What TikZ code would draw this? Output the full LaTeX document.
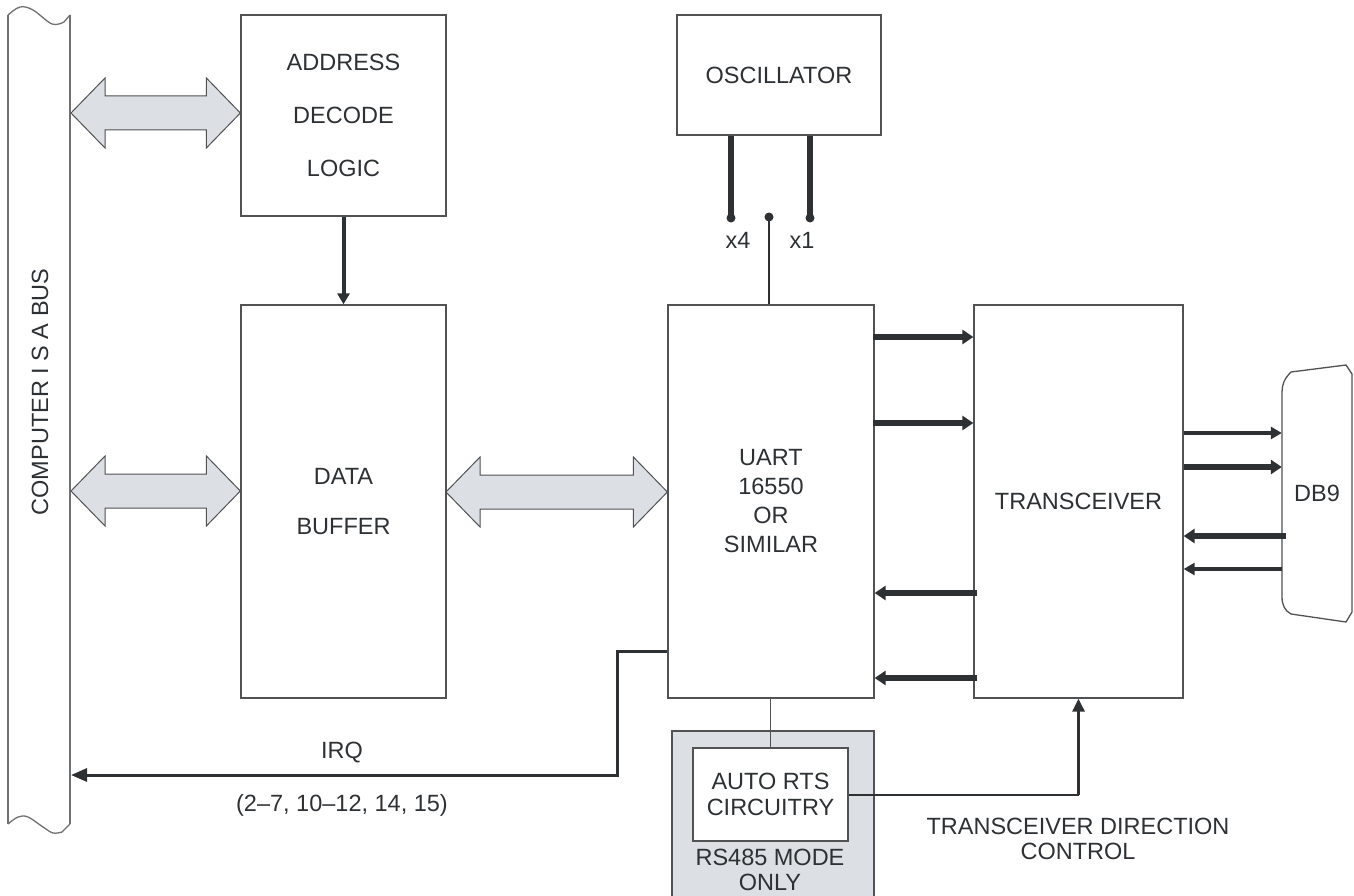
\documentclass[tikz,border=0pt]{standalone}
\usepackage{fontspec}
\setmainfont{Liberation Sans}
\usetikzlibrary{arrows.meta,calc}
\definecolor{ink}{HTML}{2E3134}
\definecolor{edge}{HTML}{505254}
\definecolor{busline}{HTML}{6E7072}
\definecolor{panelgray}{HTML}{DCDFE3}
\newcommand\fatarrow[2]{%
  \path[fat] (#1) -- ++(34,-35) -- ++(0,18) -- ($(#2)+(-34,-17)$) -- ++(0,-18) -- (#2)
    -- ++(-34,35) -- ++(0,-18) -- ($(#1)+(34,17)$) -- ++(0,18) -- cycle;}
\begin{document}
\begin{tikzpicture}[x=1pt,y=-1pt,
  every node/.style={font=\fontsize{23.5}{29}\selectfont, text=ink},
  box/.style={draw=edge, line width=1.3pt, fill=white, inner sep=0pt, align=center},
  fat/.style={draw=edge, line width=1pt, fill=panelgray, line join=miter},
  busedge/.style={draw=busline, line width=1.3pt},
  wide/.style={draw=ink, line width=6pt, -{Triangle[length=11pt,width=14pt]}},
  medium/.style={draw=ink, line width=4pt, -{Triangle[length=11pt,width=12pt]}},
  clkline/.style={draw=ink, line width=5.5pt},
  thinwire/.style={draw=ink, line width=2pt},
  irqline/.style={draw=ink, line width=3pt, -{Triangle[length=16pt,width=13pt]}},
  lbl/.style={inner sep=0pt, align=center}
]
\useasboundingbox (0,0) rectangle (1354,896);

% ---- ISA bus ----
\path[busedge] (8,15) -- (8,824);
\path[busedge] (70,15) -- (70,824);
\path[busedge] plot[smooth, tension=0.6] coordinates {(8,15) (20,7) (33,10) (52,24) (64,22)} -- (70,15);
\path[busedge] plot[smooth, tension=0.6] coordinates {(8,824) (18,817) (28,817) (43,827) (53,833) (62,832)} -- (70,824);
\node[lbl, rotate=90] (buslabel) at (40,392) {COMPUTER I S A BUS};
\coordinate (bus1) at (71,113);
\coordinate (bus2) at (71,491);
\coordinate (bus3) at (71,775);

% ---- boxes ----
\node[box, minimum width=205pt, minimum height=201pt, font=\fontsize{23.5}{53}\selectfont] (addr) at (343.5,115.5) {ADDRESS\\DECODE\\LOGIC};
\node[box, minimum width=205pt, minimum height=393pt, font=\fontsize{23.5}{50}\selectfont] (buf) at (343.5,501.5) {DATA\\BUFFER};
\node[box, minimum width=204pt, minimum height=120pt] (osc) at (779,75) {OSCILLATOR};
\node[box, minimum width=206pt, minimum height=393pt] (uart) at (771,501.5) {UART\\16550\\OR\\SIMILAR};
\node[box, minimum width=209pt, minimum height=393pt] (xcvr) at (1078.5,501.5) {TRANSCEIVER};

% ---- shaded RS485 region ----
\fill[panelgray] (672,731) rectangle (874,896);
\draw[edge, line width=1.3pt] (672,896) -- (672,731) -- (874,731) -- (874,896);
\node[box, minimum width=155pt, minimum height=93pt, font=\fontsize{23.5}{26}\selectfont] (auto) at (770.5,794.5) {AUTO RTS\\CIRCUITRY};
\node[lbl, font=\fontsize{23.5}{25}\selectfont] (rsl) at (770,870) {RS485 MODE\\ONLY};

% ---- DB9 ----
\node[lbl] (db9) at (1317,493.5) [minimum width=70pt, minimum height=257pt] {DB9};
\draw[edge, line width=1.3pt] (1291,372) -- (1346,365) -- (1352,374) -- (1352,612) -- (1346,622) -- (1291,614)
  .. controls (1285,611) and (1282,605) .. (1282,597) -- (1282,392)
  .. controls (1282,385) and (1284,379) .. cycle;

% ---- fat bus arrows ----
\fatarrow{bus1}{addr.west |- bus1}
\fatarrow{bus2}{buf.west |- bus2}
\coordinate (mid) at (446,492);
\fatarrow{mid}{uart.west |- mid}

% ---- address decode -> data buffer ----
\draw[medium] (addr.south) -- (buf.north);

% ---- oscillator taps ----
\coordinate (x4) at (731,218);
\coordinate (x1) at (810,218);
\coordinate (clk) at (769,217);
\draw[clkline] (osc.south -| x4) -- (x4);
\draw[clkline] (osc.south -| x1) -- (x1);
\fill[ink] (x4) circle (4.5);
\fill[ink] (x1) circle (4.5);
\fill[ink] (clk) circle (4.5);
\draw[draw=ink, line width=2.5pt] (clk) -- (uart.north -| clk);
\node[lbl] (x4l) at (738,240) {x4};
\node[lbl] (x1l) at (802,240) {x1};

% ---- UART <-> transceiver ----
\coordinate (l1) at (0,337);
\coordinate (l2) at (0,423);
\coordinate (l3) at (0,593);
\coordinate (l4) at (0,678);
\draw[wide] ([xshift=-2pt]uart.east |- l1) -- (xcvr.west |- l1);
\draw[wide] ([xshift=-2pt]uart.east |- l2) -- (xcvr.west |- l2);
\draw[wide] ([xshift=4pt]xcvr.west |- l3) -- (uart.east |- l3);
\draw[wide] ([xshift=4pt]xcvr.west |- l4) -- (uart.east |- l4);

% ---- transceiver <-> DB9 ----
\coordinate (d1) at (0,433);
\coordinate (d2) at (0,467);
\coordinate (d3) at (0,536);
\coordinate (d4) at (0,569);
\draw[medium] (xcvr.east |- d1) -- (db9.west |- d1);
\draw[wide] (xcvr.east |- d2) -- (db9.west |- d2);
\draw[wide] ([xshift=4pt]db9.west |- d3) -- (xcvr.east |- d3);
\draw[medium] (db9.west |- d4) -- (xcvr.east |- d4);

% ---- IRQ ----
\coordinate (irqy) at (0,651);
\coordinate (irqx) at (617,0);
\draw[irqline] (uart.west |- irqy) -- (irqx |- irqy) -- (irqx |- bus3) -- (bus3);
\node[lbl] (irq) at (342,753) {IRQ};
\node[lbl] (irqs) at (342,805) {(2–7, 10–12, 14, 15)};

% ---- RS485 auto RTS ----
\draw[draw=edge, line width=1.3pt] (uart.south -| auto.north) -- (auto.north);
\coordinate (dirc) at (xcvr.south |- auto.east);
\draw[thinwire] (auto.east) -- (dirc);
\draw[draw=ink, line width=3pt, -{Triangle[length=13pt,width=12pt]}] (dirc) -- (xcvr.south);
\node[lbl, font=\fontsize{23.5}{25}\selectfont] (dirl) at (1078,839) {TRANSCEIVER DIRECTION\\CONTROL};
\end{tikzpicture}
\end{document}
